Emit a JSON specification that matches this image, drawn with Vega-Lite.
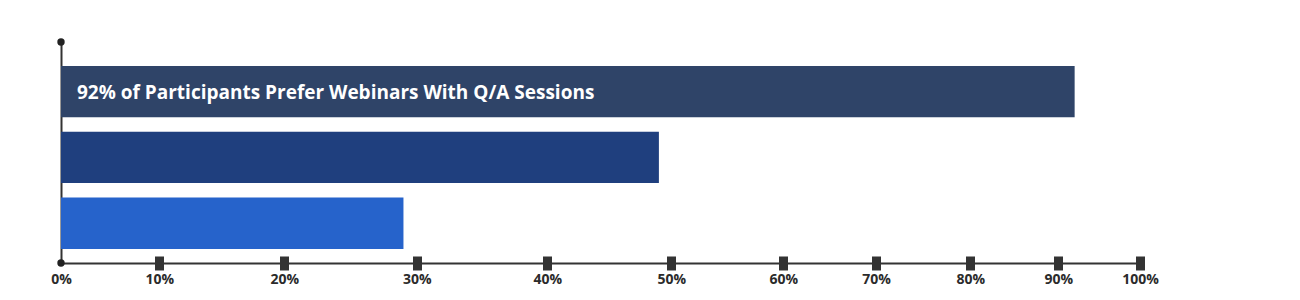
{
  "$schema": "https://vega.github.io/schema/vega-lite/v6.json",
  "width": 1079,
  "height": 221,
  "autosize": "none",
  "padding": {"left": 61, "top": 42, "right": 160, "bottom": 37},
  "background": "white",
  "config": {"view": {"stroke": null}},
  "data": {"values": [
    {"cat": "Prefer Q/A sessions", "value": 92, "label": "92% of Participants Prefer Webinars With Q/A Sessions"},
    {"cat": "Second group", "value": 49, "label": ""},
    {"cat": "Third group", "value": 29, "label": ""}
  ]},
  "resolve": {"scale": {"y": "independent"}, "axis": {"x": "independent", "y": "independent"}},
  "layer": [
    {
      "mark": {"type": "bar", "cornerRadius": 0},
      "encoding": {
        "x": {
          "field": "value", "type": "quantitative",
          "scale": {"domain": [0, 10, 20, 30, 40, 50, 60, 70, 80, 90, 100], "range": [0, 98.3, 223.3, 355.7, 486.3, 610.3, 722.3, 815, 909.3, 997.3, 1079], "nice": false, "zero": true},
          "axis": {"orient": "bottom", "values": [0, 10, 20, 30, 40, 50, 60, 70, 80, 90, 100], "labelExpr": "datum.value + '%'", "title": null, "grid": false, "ticks": false, "tickSize": 0, "labelPadding": 9, "domain": true, "domainColor": "#333333", "domainWidth": 2, "labelFont": "Open Sans", "labelFontWeight": "bold", "labelFontSize": 14, "labelColor": "#2b2b2b", "labelOverlap": false, "labelBound": false, "labelFlush": false}
        },
        "y": {
          "field": "cat", "type": "nominal", "sort": null,
          "scale": {"paddingInner": 0.22, "paddingOuter": 0.289, "align": 0.63},
          "axis": {"title": null, "labels": false, "ticks": false, "grid": false, "domain": true, "domainColor": "#333333", "domainWidth": 2}
        },
        "color": {
          "field": "cat", "type": "nominal", "legend": null,
          "scale": {"domain": ["Prefer Q/A sessions", "Second group", "Third group"], "range": ["#2f4468", "#1f3f7e", "#2663cb"]}
        }
      }
    },
    {
      "mark": {"type": "text", "align": "left", "baseline": "middle", "dx": 16, "dy": 5, "font": "Open Sans", "fontWeight": "bold", "fontSize": 19, "color": "#ffffff"},
      "encoding": {
        "x": {"datum": 0, "type": "quantitative", "axis": null},
        "y": {
          "field": "cat", "type": "nominal", "sort": null,
          "scale": {"paddingInner": 0.22, "paddingOuter": 0.289, "align": 0.63},
          "axis": null
        },
        "text": {"field": "label"}
      }
    },
    {
      "data": {"values": [{"end": "top"}]},
      "mark": {"type": "circle", "size": 55, "color": "#222222", "opacity": 1},
      "encoding": {
        "x": {"datum": 0, "type": "quantitative",
          "axis": {"orient": "bottom", "offset": -7, "values": [10, 20, 30, 40, 50, 60, 70, 80, 90, 100], "labels": false, "domain": false, "grid": false, "title": null, "ticks": true, "tickSize": 14, "tickWidth": 9, "tickColor": "#333333"}},
        "y": {"datum": 1, "type": "quantitative", "scale": {"domain": [0, 1], "nice": false}, "axis": null}
      }
    },
    {
      "data": {"values": [{"end": "bottom"}]},
      "mark": {"type": "circle", "size": 55, "color": "#222222", "opacity": 1},
      "encoding": {
        "x": {"datum": 0, "type": "quantitative", "axis": null},
        "y": {"datum": 0, "type": "quantitative", "scale": {"domain": [0, 1], "nice": false}, "axis": null}
      }
    }
  ]
}
